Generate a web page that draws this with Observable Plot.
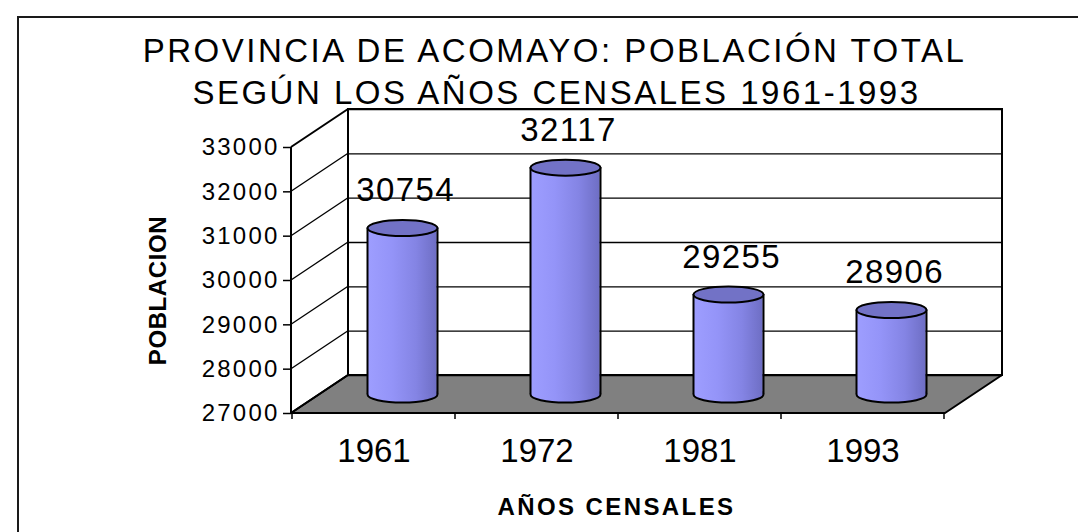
<!DOCTYPE html>
<html><head><meta charset="utf-8">
<script src="https://cdn.jsdelivr.net/npm/d3@7"></script>
<script src="https://cdn.jsdelivr.net/npm/@observablehq/plot@0.6"></script>
<style>
html,body{margin:0;padding:0;background:#fff;overflow:hidden;}
#wrap{position:relative;width:1078px;height:532px;}
#border{position:absolute;left:17px;top:16px;width:1200px;height:700px;border-left:2px solid #1a1a1a;border-top:2px solid #1a1a1a;pointer-events:none;}
</style></head><body>
<div id="wrap"><div id="chart"></div><div id="border"></div></div>
<script>
// ---- data ----
const years = ["1961", "1972", "1981", "1993"];
const population = [30754, 32117, 29255, 28906];
const yTicks = [27000, 28000, 29000, 30000, 31000, 32000, 33000];
const titleLines = ["PROVINCIA DE ACOMAYO: POBLACIÓN TOTAL", "SEGÚN LOS AÑOS CENSALES 1961-1993"];
const yLabel = "POBLACION";
const xLabel = "AÑOS CENSALES";

const data = years.map((year, i) => ({year, population: population[i]}));
const yMin = yTicks[0], yMax = yTicks[yTicks.length - 1];

// ---- 3D styling ----
const DX = 57, DY = -38;          // depth of the back wall
const CX = DX / 2, CY = DY / 2;   // cylinders sit at mid depth
const RX = 35, RY = 8;            // cylinder ellipse radii (px)
const ellipse = {
  draw(ctx) {
    const k = 0.5523;
    ctx.moveTo(RX, 0);
    ctx.bezierCurveTo(RX, RY * k, RX * k, RY, 0, RY);
    ctx.bezierCurveTo(-RX * k, RY, -RX, RY * k, -RX, 0);
    ctx.bezierCurveTo(-RX, -RY * k, -RX * k, -RY, 0, -RY);
    ctx.bezierCurveTo(RX * k, -RY, RX, -RY * k, RX, 0);
    ctx.closePath();
  }
};

function box3d(index, scales, values, dim) {
  const {width, height, marginLeft, marginRight, marginTop, marginBottom} = dim;
  const x0 = marginLeft, x1 = width - marginRight, yb = height - marginBottom, yt = marginTop;
  const y = typeof scales.y === "function" ? scales.y : (v => yb - (v - yMin) / (yMax - yMin) * (yb - yt));
  const g = d3.create("svg:g").attr("fill", "none").attr("stroke", "#000");
  g.append("rect").attr("x", x0 + DX).attr("y", yt + DY).attr("width", x1 - x0).attr("height", yb - yt)
    .attr("fill", "#fff").attr("stroke-width", 2);
  g.append("path").attr("d", `M${x0},${yb}L${x1},${yb}L${x1 + DX},${yb + DY}L${x0 + DX},${yb + DY}Z`)
    .attr("fill", "#808080").attr("stroke-width", 2).attr("stroke-linejoin", "round");
  for (const t of yTicks) {
    g.append("line").attr("x1", x0).attr("y1", y(t)).attr("x2", x0 + DX).attr("y2", y(t) + DY)
      .attr("stroke-width", (t === yMax || t === yMin) ? 2 : 1.3);
  }
  g.append("line").attr("x1", x0).attr("y1", yt).attr("x2", x0).attr("y2", yb).attr("stroke-width", 2);
  let bounds;
  if (scales.x && scales.x.bandwidth) {
    const bw = scales.x.bandwidth();
    bounds = years.map(c => scales.x(c)).concat([scales.x(years[years.length - 1]) + bw]);
  } else {
    bounds = d3.range(years.length + 1).map(i => x0 + i * (x1 - x0) / years.length);
  }
  for (const b of bounds) g.append("line").attr("x1", b).attr("x2", b).attr("y1", yb).attr("y2", yb + 6).attr("stroke-width", 1.5);
  return g.node();
}

const svg = Plot.plot({
  width: 1078,
  height: 532,
  marginLeft: 291,
  marginRight: 133,
  marginTop: 147,
  marginBottom: 119,
  x: {type: "band", domain: years, padding: 0, label: null},
  y: {domain: [yMin, yMax], label: null},
  style: {fontFamily: "'Liberation Sans', Arial, sans-serif", color: "#000", background: "transparent", overflow: "visible"},
  marks: [
    box3d,
    Plot.ruleY(yTicks, {dx: DX, dy: DY, stroke: "#000", strokeWidth: 1.3}),
    // cylinders
    Plot.dot(data, {x: "year", y: () => yMin, dx: CX, dy: CY, symbol: ellipse, fill: "url(#cylGrad)", stroke: "#000", strokeWidth: 2}),
    Plot.barY(data, {x: "year", y1: () => yMin, y2: "population", dx: CX, dy: CY, insetLeft: 46.75, insetRight: 46.75, fill: "url(#cylGrad)"}),
    Plot.ruleX(data, {x: "year", y1: () => yMin, y2: "population", dx: CX - RX, dy: CY, stroke: "#000", strokeWidth: 2}),
    Plot.ruleX(data, {x: "year", y1: () => yMin, y2: "population", dx: CX + RX, dy: CY, stroke: "#000", strokeWidth: 2}),
    Plot.dot(data, {x: "year", y: "population", dx: CX, dy: CY, symbol: ellipse, fill: "#7272C6", stroke: "#000", strokeWidth: 2}),
    // value labels
    Plot.text(data, {x: "year", y: "population", text: d => String(d.population), dx: CX + 3, dy: CY - 27, lineAnchor: "bottom", fontSize: 33, fill: "#000"}),
    // axes
    Plot.axisY(yTicks, {tickSize: 8, tickPadding: 4, fontSize: 24, tickFormat: d => String(d), label: null, strokeWidth: 1.5}),
    Plot.axisX({tickSize: 0, tickPadding: 25, fontSize: 33, label: null}),
    Plot.text([yLabel], {frameAnchor: "left", dx: -133.5, dy: 10, rotate: -90, textAnchor: "middle", lineAnchor: "middle", fontSize: 24, fontWeight: "bold", fill: "#000"}),
    Plot.text([xLabel], {frameAnchor: "bottom", dx: -2, dy: 101, lineAnchor: "bottom", fontSize: 24, fontWeight: "bold", fill: "#000"}),
    // title
    Plot.text([titleLines[0]], {frameAnchor: "top", dx: -64, dy: -86, lineAnchor: "bottom", fontSize: 33, fill: "#000"}),
    Plot.text([titleLines[1]], {frameAnchor: "top", dx: -62, dy: -44, lineAnchor: "bottom", fontSize: 33, fill: "#000"})
  ]
});

const sel = d3.select(svg);
const grad = sel.insert("defs", ":first-child").append("linearGradient")
  .attr("id", "cylGrad").attr("x1", 0).attr("x2", 1).attr("y1", 0).attr("y2", 0);
[[0, "#9E9EFF"], [0.35, "#9494F8"], [0.7, "#8484E4"], [1, "#6E6EC4"]].forEach(([o, c]) =>
  grad.append("stop").attr("offset", o).attr("stop-color", c));

// letter spacing to mimic the wide Excel text rendering
const valueTexts = new Set(population.map(String));
const tickTexts = new Set(yTicks.map(String));
sel.selectAll("text").each(function() {
  const t = this.textContent;
  let ls = null;
  if (titleLines.includes(t)) ls = "2.5px";
  else if (valueTexts.has(t)) ls = "1.4px";
  else if (tickTexts.has(t)) ls = "2.2px";
  else if (t === xLabel) ls = "2.4px";
  else if (t === yLabel) ls = "0.6px";
  if (ls) this.style.letterSpacing = ls;
});
document.getElementById("chart").appendChild(svg);
</script>
</body></html>
